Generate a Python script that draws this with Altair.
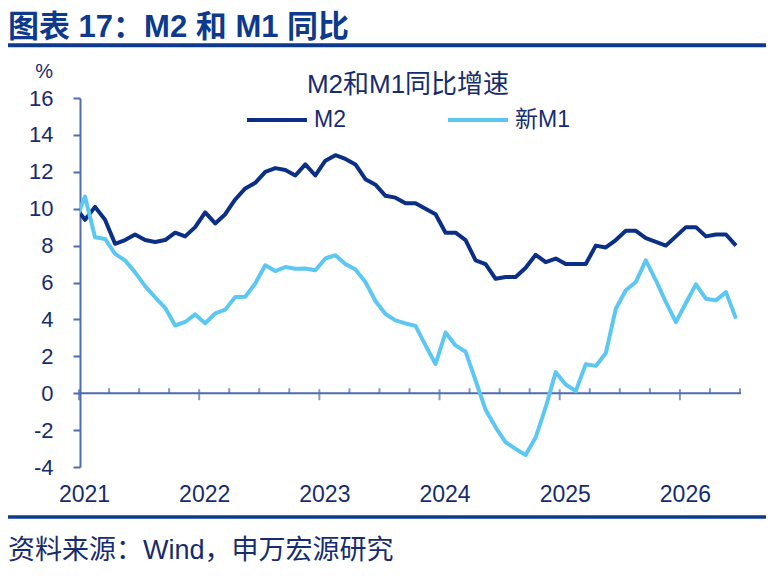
import altair as alt
import pandas as pd

# ---------------- data ----------------
months = [str(p) for p in pd.period_range("2020-12", "2026-06", freq="M")]

m2 = [10.1,
      9.4, 10.1, 9.4, 8.1, 8.3, 8.6, 8.3, 8.2, 8.3, 8.7, 8.5, 9.0,
      9.8, 9.2, 9.7, 10.5, 11.1, 11.4, 12.0, 12.2, 12.1, 11.8, 12.4, 11.8,
      12.6, 12.9, 12.7, 12.4, 11.6, 11.3, 10.7, 10.6, 10.3, 10.3, 10.0, 9.7,
      8.7, 8.7, 8.3, 7.2, 7.0, 6.2, 6.3, 6.3, 6.8, 7.5, 7.1, 7.3,
      7.0, 7.0, 7.0, 8.0, 7.9, 8.3, 8.8, 8.8, 8.4, 8.2, 8.0, 8.5,
      9.0, 9.0, 8.5, 8.6, 8.6, 8.0]

new_m1 = [9.3,
          10.66, 8.45, 8.36, 7.55, 7.2, 6.55, 5.8, 5.2, 4.63, 3.67, 3.86, 4.27,
          3.79, 4.33, 4.53, 5.22, 5.23, 5.95, 6.93, 6.62, 6.84, 6.75, 6.76, 6.66,
          7.30, 7.48, 7.0, 6.70, 6.03, 5.0, 4.29, 3.95, 3.78, 3.65, 2.59, 1.58,
          3.29, 2.59, 2.25, 0.69, -0.9, -1.85, -2.66, -3.02, -3.35, -2.39, -0.76, 1.14,
          0.47, 0.11, 1.57, 1.48, 2.17, 4.58, 5.58, 6.03, 7.20, 6.12, 4.94, 3.85,
          4.89, 5.90, 5.12, 5.03, 5.48, 4.04]

series_names = ["M2", "新M1"]
year_labels = [2021, 2022, 2023, 2024, 2025, 2026]
y_ticks = [-4, -2, 0, 2, 4, 6, 8, 10, 12, 14, 16]

header_text = "图表 17：M2 和 M1 同比"
chart_title = "M2和M1同比增速"
unit_text = "%"
source_text = "资料来源：Wind，申万宏源研究"

# ---------------- styling ----------------
DARK = "#0B2F86"
LIGHT = "#5CC8F2"
AXIS = "#4C6DAE"
TEXT = "#162C6E"
HEAD = "#0D3A8C"
FONT = "Liberation Sans, Arial, Noto Sans CJK SC, sans-serif"

W, H = 661, 369


def month_pos(label):
    p = pd.Period(label, freq="M")
    return (p.year - year_labels[0]) * 12 + (p.month - 1) + 0.5


rows = []
for name, vals in zip(series_names, [m2, new_m1]):
    for lab, v in zip(months, vals):
        rows.append({"month": lab, "t": month_pos(lab), "series": name, "value": v})
df = pd.DataFrame(rows)

n_months = (year_labels[-1] - year_labels[0]) * 12 + 6
x_scale = alt.Scale(domain=[0, n_months], nice=False, zero=False)
y_scale = alt.Scale(domain=[y_ticks[0], y_ticks[-1]], nice=False, zero=False)

year_ticks = [(y - year_labels[0]) * 12 for y in year_labels]
quarter_ticks = [q for q in range(0, n_months + 1, 3) if q % 12 != 0]

x_axis = alt.Axis(values=year_ticks,
                  labelExpr="'' + (%d + datum.value / 12)" % year_labels[0],
                  domain=False, ticks=False, grid=False, title=None,
                  labelFontSize=23, labelFont=FONT, labelColor=TEXT,
                  labelPadding=16, labelOffset=4, labelFlush=False,
                  labelOverlap=False)
y_axis = alt.Axis(values=y_ticks, labelExpr="'' + datum.value",
                  domainColor=AXIS, domainWidth=2, tickColor=AXIS,
                  tickWidth=2, tickSize=7, grid=False, title=None,
                  labelFontSize=22, labelFont=FONT, labelColor=TEXT,
                  labelPadding=20, labelOverlap=False, labelFlush=False)

lines = alt.Chart(df).mark_line(strokeWidth=4, clip=True, strokeJoin="round").encode(
    x=alt.X("t:Q", scale=x_scale, axis=x_axis),
    y=alt.Y("value:Q", scale=y_scale, axis=y_axis),
    color=alt.Color("series:N",
                    scale=alt.Scale(domain=series_names, range=[DARK, LIGHT]),
                    legend=alt.Legend(title=None, orient="none", legendX=165, legendY=-10,
                                      direction="horizontal", symbolType="stroke",
                                      symbolSize=3600, symbolStrokeWidth=4,
                                      labelFontSize=23, labelFont=FONT, labelColor=TEXT,
                                      labelOffset=5, columnPadding=94, padding=0,
                                      rowPadding=0)),
)

one = pd.DataFrame({"k": [0]})

zero_line = alt.Chart(one).mark_rule(color=AXIS, strokeWidth=2).encode(
    y=alt.YDatum(0, axis=y_axis, scale=y_scale))

major = alt.Chart(pd.DataFrame({"t": year_ticks})).mark_tick(
    orient="vertical", size=11, thickness=2, color=AXIS, yOffset=1.5, xOffset=-1
).encode(x=alt.X("t:Q", scale=x_scale, axis=x_axis),
         y=alt.YDatum(0, axis=y_axis, scale=y_scale))

minor = alt.Chart(pd.DataFrame({"t": quarter_ticks})).mark_tick(
    orient="vertical", size=5, thickness=2, color=AXIS, yOffset=-2.5, xOffset=-1
).encode(x=alt.X("t:Q", scale=x_scale, axis=x_axis),
         y=alt.YDatum(0, axis=y_axis, scale=y_scale))


def text_layer(txt, x, y, size, color, weight="normal", align="left"):
    return alt.Chart(pd.DataFrame({"txt": [txt]})).mark_text(
        align=align, baseline="alphabetic", fontSize=size, font=FONT,
        fontWeight=weight, color=color
    ).encode(text="txt:N", x=alt.value(x), y=alt.value(y))


def hrule(y, width):
    return alt.Chart(one).mark_rule(color=HEAD, strokeWidth=width).encode(
        x=alt.value(-72), x2=alt.value(686), y=alt.value(y))


chart = alt.layer(
    zero_line, major, minor, lines,
    text_layer(header_text, -72, -61, 31, HEAD, "bold"),
    hrule(-52.7, 4),
    text_layer(chart_title, 328, -5.5, 26, TEXT, align="center"),
    text_layer(unit_text, -27, -20, 20, TEXT, align="right"),
    hrule(419, 3.5),
    text_layer(source_text, -72, 461, 27, TEXT),
).properties(
    width=W, height=H,
    autosize=alt.AutoSizeParams(type="none"),
    padding={"left": 80, "top": 98, "right": 33, "bottom": 112},
    background="white",
).configure_view(stroke=None)

chart.save("out.html", embed_options={"renderer": "svg", "actions": False})
